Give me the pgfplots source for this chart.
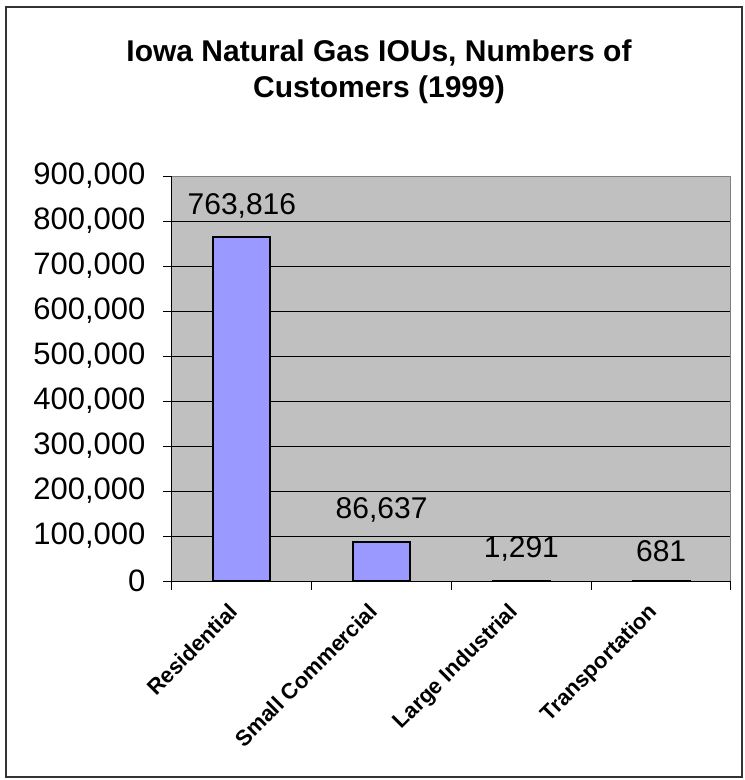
\documentclass[border=0pt]{standalone}
\usepackage{fontspec}
\setmainfont{Liberation Sans}
\usepackage{pgfplots}
\pgfplotsset{compat=1.18}
\definecolor{plotgray}{HTML}{C0C0C0}
\definecolor{barblue}{HTML}{9999FF}
\definecolor{edgegray}{HTML}{808080}
\begin{document}
\begin{tikzpicture}[x=1pt,y=1pt]
\path (-172,-199) rectangle (573,581);
\draw[line width=1.5pt, black!80] (-166,-196) rectangle (570,574);
\node[anchor=base, font=\fontsize{30}{36}\selectfont\bfseries] at (207,519) {Iowa Natural Gas IOUs, Numbers of};
\node[anchor=base, font=\fontsize{30}{36}\selectfont\bfseries] at (207,483) {Customers (1999)};
\begin{axis}[
  at={(0,0)}, anchor=south west,
  scale only axis, width=559pt, height=405pt,
  xmin=-0.5, xmax=3.5, ymin=0, ymax=900000,
  axis background/.style={fill=plotgray},
  axis x line*=bottom, axis y line*=left,
  axis line style={black, line width=1pt},
  ytick distance=100000,
  ymajorgrids, grid style={black, line width=1pt},
  scaled y ticks=false,
  /pgf/number format/fixed, /pgf/number format/precision=0,
  /pgf/number format/1000 sep={,},
  /pgf/number format/assume math mode=true,
  yticklabel style={font=\fontsize{31}{31}\selectfont, xshift=-14pt},
  tick align=outside, major tick length=9pt,
  tick style={black, line width=1pt},
  xtick={-0.5,0.5,1.5,2.5,3.5}, xticklabels={,,,,},
  extra x ticks={0,1,2,3},
  extra x tick labels={Residential,Small Commercial,Large Industrial,Transportation},
  extra x tick style={major tick length=0pt, grid=none,
    xticklabel style={xshift=-14pt, yshift=-16pt, rotate=45, anchor=north east,
      font=\fontsize{22}{22}\selectfont\bfseries}},
  ybar, bar width=57pt,
  nodes near coords={\pgfplotspointmeta},
  point meta=explicit symbolic,
  every node near coord/.append style={font=\fontsize{30}{30}\selectfont, yshift=15pt},
]
\addplot[fill=barblue, draw=black, line width=1.8pt] coordinates {
  (0,763816) [763,816]
  (1,86637) [86,637]
  (2,1291) [1,291]
  (3,681) [681]
};
\draw[edgegray, line width=2pt] (rel axis cs:0,1) -- (rel axis cs:1,1) -- (rel axis cs:1,0);
\end{axis}
\end{tikzpicture}
\end{document}
